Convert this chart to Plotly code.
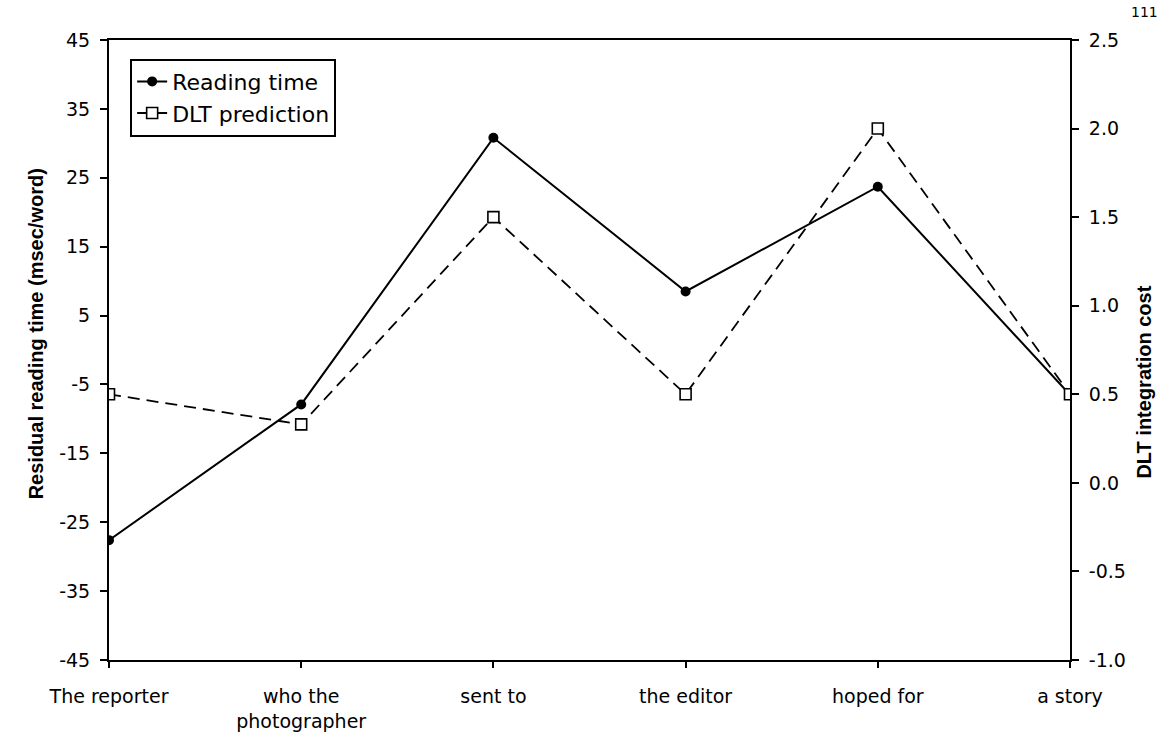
import plotly.graph_objects as go

categories = ["The reporter", "who the<br>photographer", "sent to", "the editor", "hoped for", "a story"]
reading_time = [-27.6, -7.9, 30.8, 8.5, 23.7, -6.5]
dlt_prediction = [0.5, 0.33, 1.5, 0.5, 2.0, 0.5]
left_ticks = [-45, -35, -25, -15, -5, 5, 15, 25, 35, 45]
left_tick_labels = ["-45", "-35", "-25", "-15", "-5", "5", "15", "25", "35", "45"]
right_ticks = [-1.0, -0.5, 0.0, 0.5, 1.0, 1.5, 2.0, 2.5]
right_tick_labels = ["-1.0", "-0.5", "0.0", "0.5", "1.0", "1.5", "2.0", "2.5"]
x_tick_positions = [0, 1, 2, 3, 4, 5]

FONT = "DejaVu Sans"
TITLE_FONT = "Liberation Sans, Arial, sans-serif"

fig = go.Figure()
fig.add_trace(go.Scatter(
    x=categories, y=reading_time, name="Reading time", yaxis="y",
    mode="lines+markers", legendrank=1,
    line=dict(color="black", width=2),
    marker=dict(symbol="circle", size=10, color="black"),
))
fig.add_trace(go.Scatter(
    x=categories, y=dlt_prediction, name="DLT prediction", yaxis="y2",
    mode="lines+markers", legendrank=2,
    line=dict(color="black", width=1.8, dash="12px,7px"),
    marker=dict(symbol="square", size=11, color="white",
                line=dict(color="black", width=1.6)),
))

axis_common = dict(showgrid=False, zeroline=False, linecolor="black",
                   tickcolor="black", tickwidth=1.5)

fig.update_layout(
    width=1165, height=744,
    margin=dict(l=109, r=95, t=40, b=69),
    paper_bgcolor="white", plot_bgcolor="white",
    font=dict(family=FONT, color="black", size=19),
    showlegend=True,
    legend=dict(x=0.022, y=0.97, xanchor="left", yanchor="top",
                bordercolor="black", borderwidth=2, bgcolor="white",
                font=dict(family=FONT, size=22), tracegroupgap=10,
                traceorder="grouped"),
    xaxis=dict(type="category", range=[0, 5], showline=True, linewidth=2,
               mirror=True, ticks="outside", ticklen=6,
               tickfont=dict(family=FONT, size=19), ticklabelstandoff=12,
               **axis_common),
    xaxis2=dict(overlaying="x", anchor="y", range=[0, 5], tickvals=x_tick_positions,
                ticks="inside", ticklen=6, showticklabels=False, showline=False,
                **axis_common),
    yaxis=dict(range=[-45, 45], tickvals=left_ticks, ticktext=left_tick_labels,
               showline=True, linewidth=2,
               ticks="outside", ticklen=7, tickfont=dict(family=FONT, size=19),
               ticklabelstandoff=6, **axis_common),
    yaxis2=dict(overlaying="y", side="right", anchor="x", range=[-1, 2.5],
                tickvals=right_ticks, ticktext=right_tick_labels,
                showline=True, linewidth=2,
                ticks="outside", ticklen=7, tickfont=dict(family=FONT, size=19),
                ticklabelstandoff=6, **axis_common),
    yaxis3=dict(overlaying="y", side="right", anchor="x", range=[-1, 2.5],
                tickvals=right_ticks, ticks="inside", ticklen=7,
                showticklabels=False, showline=False, **axis_common),
    annotations=[
        dict(text="<b>Residual reading time (msec/word)</b>", textangle=-90,
             x=-0.0765, y=0.526, xref="paper", yref="paper", showarrow=False,
             xanchor="center", yanchor="middle",
             font=dict(family=TITLE_FONT, size=20, color="black")),
        dict(text="<b>DLT integration cost</b>", textangle=-90,
             x=1.077, y=0.449, xref="paper", yref="paper", showarrow=False,
             xanchor="center", yanchor="middle",
             font=dict(family=TITLE_FONT, size=20, color="black")),
        dict(text="111", x=1.078, y=1.062, xref="paper", yref="paper",
             showarrow=False, xanchor="center", yanchor="top",
             font=dict(family=FONT, size=14, color="black")),
    ],
)

fig.write_html("out.html", config={"displayModeBar": False},
               post_script="document.body.style.margin='0';")
